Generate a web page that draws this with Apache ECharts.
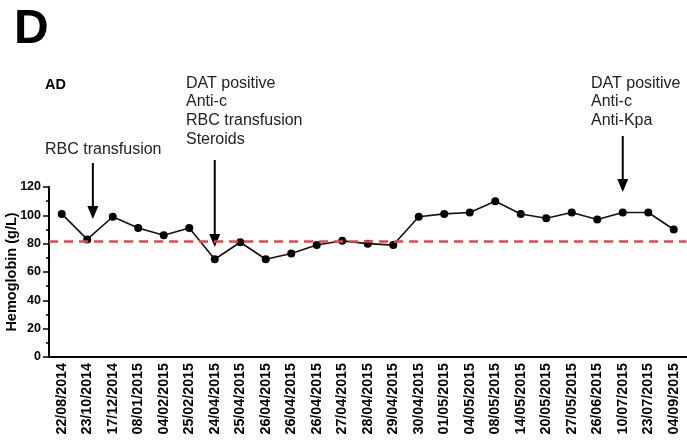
<!DOCTYPE html>
<html><head><meta charset="utf-8">
<script src="https://cdn.jsdelivr.net/npm/echarts@6/dist/echarts.min.js"></script>
<style>html,body{margin:0;padding:0;background:#fff}#c{width:687px;height:441px}</style>
</head><body><div id="c"></div>
<script>
const dates = ['22/08/2014','23/10/2014','17/12/2014','08/01/2015','04/02/2015','25/02/2015','24/04/2015','25/04/2015','26/04/2015','26/04/2015','26/04/2015','27/04/2015','28/04/2015','29/04/2015','30/04/2015','01/05/2015','04/05/2015','08/05/2015','14/05/2015','20/05/2015','27/05/2015','26/06/2015','10/07/2015','23/07/2015','04/09/2015'];
const hemoglobin = [101,83,99,91,86,91,69,81,69,73,79,82,80,79,99,101,102,110,101,98,102,97,102,102,90];
const threshold = 82;
const yMin = 0, yMax = 120, yInterval = 20;
const panelLabel = 'D';
const subjectLabel = 'AD';
const yTitle = 'Hemoglobin (g/L)';
// annotation texts, arrow position (category index) and arrow tip value
const annoText1 = ['RBC transfusion'];
const annoText2 = ['DAT positive','Anti-c','RBC transfusion','Steroids'];
const annoText3 = ['DAT positive','Anti-c','Anti-Kpa'];
const arrowCats = [1.22, 6, 22];
const arrowTips = [97.4, 77.6, 116.4];

const FONT = 'Liberation Sans, Arial, sans-serif';
const chart = echarts.init(document.getElementById('c'), null, {renderer:'canvas'});
chart.setOption({
  backgroundColor:'#fff',
  animation:false,
  grid:{left:49, right:0.5, top:187, bottom:84, containLabel:false, outerBoundsMode:'none'},
  xAxis:{
    type:'category', data:dates, boundaryGap:true,
    axisLine:{lineStyle:{color:'#000', width:2}},
    axisTick:{alignWithLabel:true, length:5, lineStyle:{color:'#000', width:1.5}},
    axisLabel:{rotate:90, interval:0, color:'#000', fontWeight:'bold', fontSize:14.3, fontFamily:FONT, margin:6}
  },
  yAxis:{
    type:'value', min:yMin, max:yMax, interval:yInterval,
    name:yTitle, nameLocation:'middle', nameGap:30, nameMoveOverlap:false,
    nameTextStyle:{color:'#000', fontWeight:'bold', fontSize:14.5, fontFamily:FONT},
    axisLine:{show:true, lineStyle:{color:'#000', width:2}},
    axisTick:{show:true, length:6, lineStyle:{color:'#000', width:1.5}},
    minorTick:{show:true, splitNumber:2, length:3, lineStyle:{color:'#000', width:1.5}},
    splitLine:{show:false},
    axisLabel:{color:'#000', fontWeight:'bold', fontSize:12.5, fontFamily:FONT, margin:8}
  },
  series:[{
    type:'line', data:hemoglobin,
    symbol:'circle', symbolSize:8,
    itemStyle:{color:'#000'},
    lineStyle:{color:'#111', width:1.6},
    markLine:{
      silent:true, symbol:'none', label:{show:false},
      lineStyle:{color:'#e8434f', type:[9,6], width:2.5},
      data:[{yAxis:threshold}]
    },
    z:3
  }]
});

function catX(c){
  const i = Math.floor(c), f = c - i;
  const a = chart.convertToPixel({xAxisIndex:0}, i);
  if (f === 0) return a;
  const b = chart.convertToPixel({xAxisIndex:0}, i+1);
  return a + (b-a)*f;
}
function valY(v){ return chart.convertToPixel({yAxisIndex:0}, v); }

const arrowTops = [163, 160, 136];
const g = [];
g.push({type:'text', left:14, top:6, style:{text:panelLabel, font:'bold 48px '+FONT, fill:'#000'}});
g.push({type:'text', left:45, top:77, style:{text:subjectLabel, font:'bold 14.5px '+FONT, fill:'#000'}});
function block(lines, x, y){
  g.push({type:'text', x:x, y:y, style:{text:lines.join('\n'), font:'16px '+FONT, fill:'#222', lineHeight:18.7}});
}
block(annoText1, 45, 140);
block(annoText2, 186, 74);
block(annoText3, 591, 74);
for (let k=0;k<arrowCats.length;k++){
  const x = catX(arrowCats[k]);
  const ty = valY(arrowTips[k]);
  const top = arrowTops[k];
  g.push({type:'line', shape:{x1:x, y1:top, x2:x, y2:ty-10}, style:{stroke:'#000', lineWidth:2}});
  g.push({type:'polygon', shape:{points:[[x-5.5,ty-13],[x+5.5,ty-13],[x,ty]]}, style:{fill:'#000'}});
}
chart.setOption({graphic:g});
</script></body></html>
